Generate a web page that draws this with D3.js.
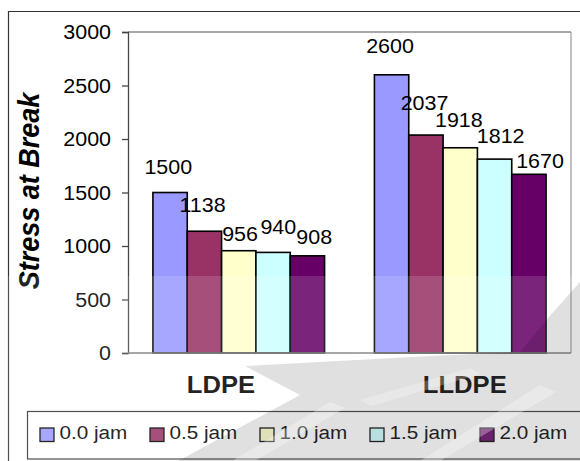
<!DOCTYPE html>
<html><head><meta charset="utf-8">
<script src="https://cdn.jsdelivr.net/npm/d3@7"></script>
<style>html,body{margin:0;padding:0;background:#fff;} svg{display:block;font-family:"Liberation Sans",Arial,sans-serif;}</style>
</head><body><svg id="c" width="580" height="461"></svg>
<script>
// ---- data ----
const categories = ["LDPE", "LLDPE"];
const seriesNames = ["0.0 jam", "0.5 jam", "1.0 jam", "1.5 jam", "2.0 jam"];
const ldpeValues = [1500, 1138, 956, 940, 908];
const lldpeValues = [2600, 2037, 1918, 1812, 1670];
const yTicks = [0, 500, 1000, 1500, 2000, 2500, 3000];
const yTitle = "Stress at Break";

// ---- style ----
const seriesColors = ["#9999FF", "#993366", "#FFFFCC", "#CCFFFF", "#660066"];
const labelNudge = [
  [[-1.8, -18.5], [-1.9, -19], [1.3, -10], [5.2, -18.4], [6.8, -11.8]],
  [[-1.6, -21.5], [-1.4, -25], [-1.4, -20.5], [6.1, -15.8], [11.1, -6.6]]
];
const catNudge = [-17.75, 4.5];
const SX = 1.1; // horizontal stretch of text

const valuesByCat = [ldpeValues, lldpeValues];
const svg = d3.select("#c");

const plot = {left: 128, right: 571, top: 32, bottom: 353};
const y = d3.scaleLinear().domain([0, 3000]).range([plot.bottom, plot.top]);
const x0 = d3.scaleBand().domain(categories).range([plot.left, plot.right])
  .paddingInner(0.225).paddingOuter(0.1125);
const x1 = d3.scaleBand().domain(seriesNames).range([0, x0.bandwidth()]);

function stretchedText(parent, x, yy, str, o) {
  const g = parent.append("g").attr("transform", `translate(${x},${yy}) scale(${SX},1)` + (o.rotate ? ` rotate(${o.rotate})` : ""));
  return g.append("text").attr("x", 0).attr("y", 0)
    .attr("text-anchor", o.anchor || "start")
    .attr("font-size", o.size)
    .attr("font-weight", o.weight || "normal")
    .attr("font-style", o.style || "normal")
    .attr("fill", "#000")
    .text(str);
}

// outer chart border (top and left visible)
svg.append("line").attr("x1", 8).attr("x2", 580).attr("y1", 11.5).attr("y2", 11.5).attr("stroke", "#333").attr("stroke-width", 1.2);
svg.append("line").attr("x1", 8.5).attr("x2", 8.5).attr("y1", 11).attr("y2", 461).attr("stroke", "#333").attr("stroke-width", 1.2);

// plot area frame top/right
svg.append("line").attr("x1", plot.left).attr("x2", plot.right).attr("y1", plot.top).attr("y2", plot.top).attr("stroke", "#555").attr("stroke-width", 1.2);
svg.append("line").attr("x1", plot.right).attr("x2", plot.right).attr("y1", plot.top).attr("y2", plot.bottom).attr("stroke", "#999").attr("stroke-width", 1.2);

// bars
const gBars = svg.append("g");
categories.forEach((c, ci) => {
  const g = gBars.append("g").attr("transform", `translate(${x0(c)},0)`);
  g.selectAll("rect").data(valuesByCat[ci]).join("rect")
    .attr("x", (d, i) => x1(seriesNames[i]))
    .attr("y", d => y(d))
    .attr("width", x1.bandwidth())
    .attr("height", d => y(0) - y(d))
    .attr("fill", (d, i) => seriesColors[i])
    .attr("stroke", "#000").attr("stroke-width", 1.6);
});

// axes
const yAxis = d3.axisLeft(y).tickValues(yTicks).tickSize(6).tickFormat("");
const ya = svg.append("g").attr("transform", `translate(${plot.left},0)`).call(yAxis);
ya.select(".domain").attr("stroke", "#444").attr("stroke-width", 1.3);
ya.selectAll(".tick line").attr("stroke", "#444").attr("stroke-width", 1.3);
svg.append("line").attr("x1", plot.left).attr("x2", plot.right).attr("y1", plot.bottom).attr("y2", plot.bottom).attr("stroke", "#777").attr("stroke-width", 1.3);

yTicks.forEach(t => stretchedText(svg, 111, y(t) + 7, String(t), {anchor: "end", size: 19.5}));

// value labels
categories.forEach((c, ci) => {
  valuesByCat[ci].forEach((v, i) => {
    const cx = x0(c) + x1(seriesNames[i]) + x1.bandwidth() / 2 + labelNudge[ci][i][0];
    stretchedText(svg, cx, y(v) + labelNudge[ci][i][1], String(v), {anchor: "middle", size: 19.5});
  });
});

// category labels
categories.forEach((c, ci) => {
  stretchedText(svg, x0(c) + x0.bandwidth() / 2 + catNudge[ci], 393.3, c, {anchor: "middle", size: 23.3, weight: "bold"});
});

// y title
stretchedText(svg, 38.5, 191, yTitle, {anchor: "middle", size: 27, weight: "bold", style: "italic", rotate: -90});

// legend
svg.append("rect").attr("x", 27.5).attr("y", 411.5).attr("width", 600).attr("height", 47.5)
  .attr("fill", "#fff").attr("stroke", "#333").attr("stroke-width", 1.2);
const legX = d3.scalePoint().domain(seriesNames).range([40, 480]);
seriesNames.forEach((s, i) => {
  svg.append("rect").attr("x", legX(s)).attr("y", 428).attr("width", 14).attr("height", 13.5)
    .attr("fill", seriesColors[i]).attr("stroke", "#000").attr("stroke-width", 1.3);
  stretchedText(svg, legX(s) + 19.5, 438.5, s, {size: 18.8});
});

// watermark overlays
svg.append("rect").attr("x", 0).attr("y", 276).attr("width", 580).attr("height", 185)
  .attr("fill", "#fff").attr("opacity", 0.14);
const wm = svg.append("g");
wm.append("path")
  .attr("d", "M580,282 L580,461 L178,461 L300,395 L245,366 L430,356 L520,352 L548,318 Z")
  .attr("fill", "#000").attr("opacity", 0.12);
wm.append("path").attr("d", "M420,461 L540,385 L556,392 L440,461 Z").attr("fill", "#fff").attr("opacity", 0.3);
wm.append("path").attr("d", "M232,461 L330,402 L345,408 L255,461 Z").attr("fill", "#fff").attr("opacity", 0.3);
wm.append("path").attr("d", "M360,400 L470,368 L480,374 L372,406 Z").attr("fill", "#fff").attr("opacity", 0.25);
</script></body></html>
